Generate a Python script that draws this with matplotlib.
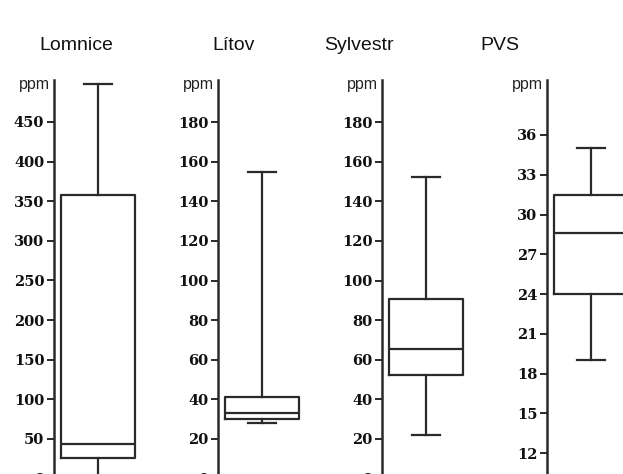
import numpy as np
import matplotlib.pyplot as plt

# site names and box statistics (ppm)
sites = ['Lomnice', 'Lítov', 'Sylvestr', 'PVS']
whislo = [3, 27.9, 21.9, 19.0]
q1 = [26, 30.3, 52.3, 24.0]
med = [43.7, 33.1, 65.5, 28.6]
q3 = [358, 41.2, 90.9, 31.5]
whishi = [498, 155, 152.3, 35.0]

# axis settings for each panel
ylims = [(0, 503), (0, 201.3), (0, 201.3), (10.07, 40.15)]
yticks = [np.arange(0, 451, 50), np.arange(0, 181, 20),
          np.arange(0, 181, 20), np.arange(12, 37, 3)]

W, H = 623, 474
fig = plt.figure(figsize=(W / 100, H / 100), dpi=100)

spine_x = [54, 218, 382, 547]
title_x = [76, 234, 359, 500]
ax_bottom, ax_top = 478.6, 80
col = '#2a2a2a'

for i in range(4):
    ax = fig.add_axes([spine_x[i] / W, 1 - ax_bottom / H, 100 / W,
                       (ax_bottom - ax_top) / H])
    stats = [dict(whislo=whislo[i], q1=q1[i], med=med[i], q3=q3[i],
                  whishi=whishi[i], fliers=[])]
    ax.bxp(stats, positions=[0.44], widths=[0.74], capwidths=[0.28],
           showfliers=False,
           boxprops=dict(color=col, linewidth=1.6),
           medianprops=dict(color=col, linewidth=1.6),
           whiskerprops=dict(color=col, linewidth=1.6),
           capprops=dict(color=col, linewidth=1.6))
    ax.set_xlim(0, 1)
    ax.set_ylim(*ylims[i])
    ax.set_yticks(yticks[i])
    ax.set_xticks([])
    for s in ['top', 'right', 'bottom']:
        ax.spines[s].set_visible(False)
    ax.spines['left'].set_color(col)
    ax.spines['left'].set_linewidth(1.8)
    ax.tick_params(axis='y', direction='out', length=5, width=1.4,
                   color=col, pad=2)
    for lab in ax.get_yticklabels():
        lab.set_fontfamily('DejaVu Serif')
        lab.set_fontweight('bold')
        lab.set_fontsize(10.5)
        lab.set_color('#111111')
    ax.patch.set_alpha(0)
    ax.annotate('ppm', xy=(0, 1), xycoords='axes fraction', xytext=(-4, -4),
                textcoords='offset pixels', ha='right', va='center',
                fontsize=11.5, family='Liberation Sans', color='#222222')
    fig.text(title_x[i] / W, 1 - 46 / H, sites[i], ha='center', va='center',
             fontsize=14, family='Liberation Sans', color='#111111')

fig.savefig('out.png', dpi=100)
